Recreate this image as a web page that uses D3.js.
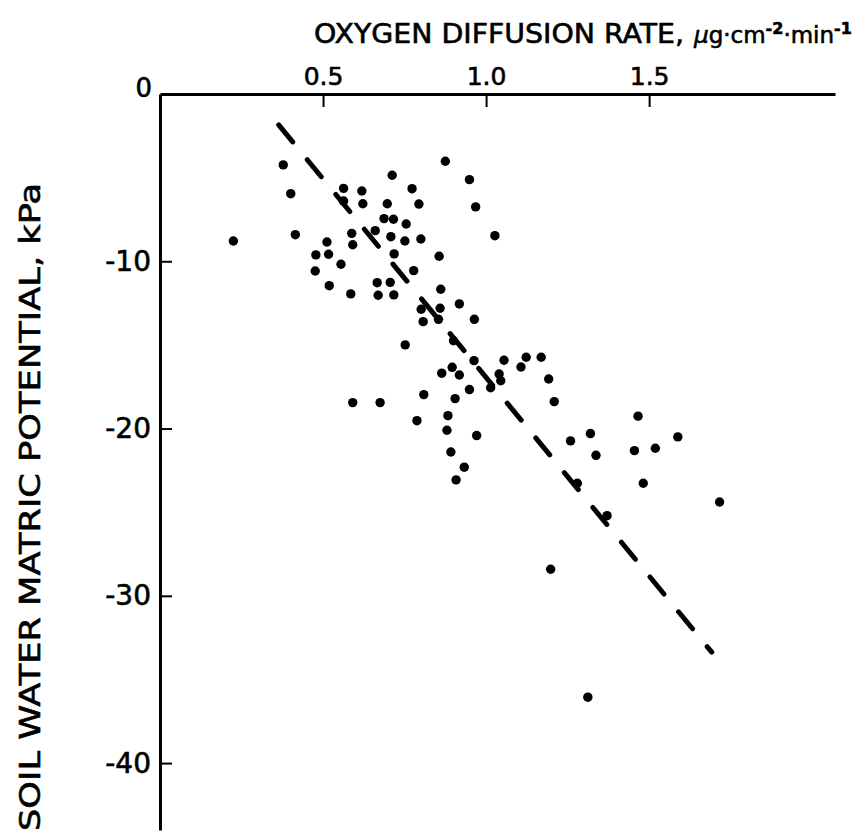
<!DOCTYPE html>
<html>
<head>
<meta charset="utf-8">
<script src="https://cdn.jsdelivr.net/npm/d3@7"></script>
<style>
  body { margin: 0; background: #fff; }
  text { font-family: "DejaVu Sans", sans-serif; fill: #000; stroke: #000; stroke-width: 0.6px; }
</style>
</head>
<body>
<svg id="chart" width="867" height="835"></svg>
<script>
// oxygen diffusion rate (ug cm-2 min-1)
const odr = [
  0.378, 0.401, 0.225, 0.415, 0.563, 0.619, 0.563, 0.622, 0.697, 0.687,
  0.716, 0.712, 0.773, 0.794, 0.755, 0.875, 0.949, 0.968, 1.027,
  0.512, 0.588, 0.660, 0.708, 0.751, 0.800, 0.478, 0.517, 0.591, 0.718,
  0.856, 0.555, 0.476, 0.778, 0.666, 0.706, 0.519, 0.585, 0.669, 0.717,
  0.861, 0.918, 0.801, 0.859, 0.807, 0.854, 0.964, 0.900, 0.752, 0.963,
  1.055, 1.123, 1.169, 1.107, 0.896, 0.864, 0.918, 1.040, 1.045, 1.192,
  1.014, 0.949, 0.809, 0.905, 0.591, 0.675, 0.883, 0.788, 0.880, 0.971,
  0.892, 0.933, 0.908,
  1.209, 1.466, 1.320, 1.259, 1.337, 1.455, 1.519, 1.588, 1.482, 1.280,
  1.371, 1.716, 1.198, 1.312
];
// soil water matric potential (kPa), same order
const matric = [
  -4.24, -5.96, -8.79, -8.41, -5.64, -5.80, -6.40, -6.56, -6.56, -7.45,
  -7.49, -4.86, -5.66, -6.58, -7.77, -4.02, -5.12, -6.75, -8.47,
  -8.85, -8.33, -8.17, -8.53, -8.79, -8.67, -9.62, -9.58, -9.01, -9.56,
  -9.70, -10.18, -10.58, -10.56, -11.28, -11.26, -11.46, -11.95, -12.03, -12.01,
  -11.67, -12.55, -12.87, -12.81, -13.61, -13.47, -13.47, -14.75, -15.00, -15.94,
  -15.92, -15.74, -15.74, -16.32, -16.34, -16.69, -16.80, -16.74, -17.14, -17.04,
  -17.56, -17.67, -17.97, -18.21, -18.45, -18.45, -19.23, -19.53, -20.10, -20.42,
  -21.40, -22.31, -23.07,
  -18.39, -19.26, -20.30, -20.74, -21.60, -21.32, -21.18, -20.50, -23.27, -23.27,
  -25.21, -24.39, -28.41, -36.06
];
// regression line end points
const fitX = [0.364, 1.692];
const fitY = [-1.85, -33.37];

const xTicks = [0.5, 1.0, 1.5];
const yTicks = [-10, -20, -30, -40];

const svg = d3.select('#chart');

let x = d3.scaleLinear().domain([0, 2.07]).range([160, 835]);
let y = d3.scaleLinear().domain([0, -44]).range([94, 830]);

// top axis, ticks pointing into the plot
let xAxis = svg.append('g')
  .attr('transform', `translate(0, ${y(0)})`)
  .call(d3.axisTop(x).tickValues(xTicks).tickFormat(d3.format('.1f'))
    .tickSizeInner(-13).tickSizeOuter(0).tickPadding(9));
xAxis.select('.domain').attr('stroke-width', 3);
xAxis.selectAll('.tick line').attr('stroke-width', 2);
xAxis.selectAll('.tick text').attr('font-size', 25).style('font-family', '"DejaVu Sans", sans-serif');

let yAxis = svg.append('g')
  .attr('transform', `translate(${x(0)}, 0)`)
  .call(d3.axisLeft(y).tickValues(yTicks).tickFormat(d => '-' + Math.abs(d))
    .tickSizeInner(-12).tickSizeOuter(0).tickPadding(9));
yAxis.select('.domain').attr('stroke-width', 3);
yAxis.selectAll('.tick line').attr('stroke-width', 2);
yAxis.selectAll('.tick text').attr('font-size', 28).style('font-family', '"DejaVu Sans", sans-serif');

// shared origin label
svg.append('text')
  .attr('x', x(0) - 8).attr('y', y(0) + 3)
  .attr('text-anchor', 'end')
  .attr('font-size', 26)
  .text('0');

// regression line
svg.append('line')
  .attr('x1', x(fitX[0])).attr('y1', y(fitY[0]))
  .attr('x2', x(fitX[1])).attr('y2', y(fitY[1]))
  .attr('stroke', '#000')
  .attr('stroke-width', 5)
  .attr('stroke-linecap', 'round')
  .attr('stroke-dasharray', '22 23');

svg.append('g').selectAll('circle')
  .data(odr.map((d, i) => [d, matric[i]]))
  .join('circle')
  .attr('cx', d => x(d[0]))
  .attr('cy', d => y(d[1]))
  .attr('r', 4.7)
  .attr('fill', '#000');

// x title
let title = svg.append('text')
  .attr('x', 314).attr('y', 43)
  .attr('font-size', 26);
title.append('tspan').attr('textLength', 370).attr('lengthAdjust', 'spacingAndGlyphs')
  .text('OXYGEN DIFFUSION RATE,');
title.append('tspan').attr('dx', 10).attr('font-size', 23).attr('font-style', 'italic').text('\u03bc');
title.append('tspan').attr('font-size', 23).text('g\u00b7cm');
title.append('tspan').attr('dy', -9).attr('font-size', 16).attr('font-weight', 'bold').text('-2');
title.append('tspan').attr('dy', 9).attr('font-size', 23).text('\u00b7min');
title.append('tspan').attr('dy', -9).attr('font-size', 16).attr('font-weight', 'bold').text('-1');

// y title
svg.append('text')
  .attr('transform', 'translate(40, 831) rotate(-90)')
  .attr('font-size', 29)
  .attr('textLength', 648)
  .attr('lengthAdjust', 'spacingAndGlyphs')
  .text('SOIL WATER MATRIC POTENTIAL, kPa');
</script>
</body>
</html>
